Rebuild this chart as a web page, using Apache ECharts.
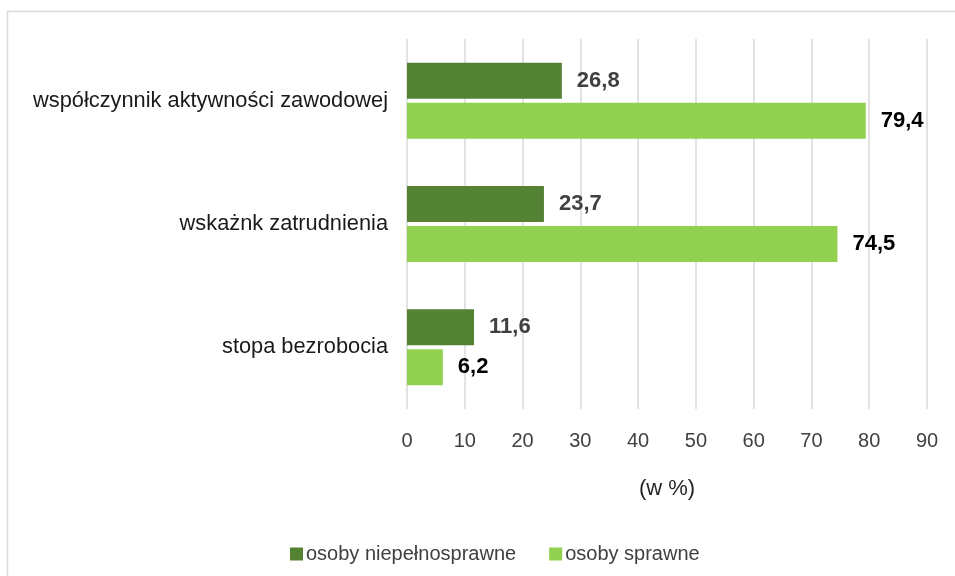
<!DOCTYPE html>
<html>
<head>
<meta charset="utf-8">
<script src="https://cdn.jsdelivr.net/npm/echarts@6/dist/echarts.min.js"></script>
<style>
html,body{margin:0;padding:0;background:#fff;}
#chart{width:955px;height:576px;}
</style>
</head>
<body>
<div id="chart"></div>
<script>
var categories = ['współczynnik aktywności zawodowej', 'wskażnk zatrudnienia', 'stopa bezrobocia'];
var seriesNames = ['osoby niepełnosprawne', 'osoby sprawne'];
var disabled = [26.8, 23.7, 11.6];
var ablebodied = [79.4, 74.5, 6.2];
var xTicks = {min: 0, max: 90, interval: 10};
var axisName = '(w %)';

var FONT = 'Liberation Sans';
var chart = echarts.init(document.getElementById('chart'), null, {renderer: 'canvas'});
function fmt(p){ return String(p.value).replace('.', ','); }
chart.setOption({
  animation: false,
  backgroundColor: '#ffffff',
  textStyle: {fontFamily: FONT},
  graphic: [{
    type: 'rect', left: 5, top: 9, silent: true,
    shape: {width: 1000, height: 620},
    style: {fill: 'none', stroke: '#d9d9d9', lineWidth: 1.5}
  }],
  grid: {left: 407, right: 28, top: 39, bottom: 167, containLabel: false},
  legend: {
    data: seriesNames,
    left: 285, top: 539,
    itemWidth: 13, itemHeight: 13, itemGap: 33,
    icon: 'rect',
    textStyle: {fontFamily: FONT, fontSize: 20, color: '#404040', padding: [0,0,0,-2]}
  },
  xAxis: {
    type: 'value', min: xTicks.min, max: xTicks.max, interval: xTicks.interval,
    name: axisName, nameLocation: 'middle', nameGap: 69,
    nameTextStyle: {fontFamily: FONT, fontSize: 22, color: '#262626'},
    axisLine: {show: false}, axisTick: {show: false},
    axisLabel: {fontFamily: FONT, fontSize: 20, color: '#404040', margin: 22},
    splitLine: {show: true, lineStyle: {color: '#d9d9d9', width: 1.5}}
  },
  yAxis: {
    type: 'category', data: categories, inverse: true,
    axisLine: {show: false}, axisTick: {show: false},
    axisLabel: {fontFamily: FONT, fontSize: 21.8, color: '#1a1a1a', margin: 19},
    splitLine: {show: false}
  },
  series: [{
    name: seriesNames[0], type: 'bar', data: disabled,
    barWidth: 36, barGap: '11%',
    itemStyle: {color: '#548235'},
    label: {show: true, position: 'right', distance: 15, formatter: fmt,
      fontFamily: FONT, fontSize: 22, fontWeight: 'bold', color: '#404040'}
  }, {
    name: seriesNames[1], type: 'bar', data: ablebodied,
    barWidth: 36, barGap: '11%',
    itemStyle: {color: '#92d050'},
    label: {show: true, position: 'right', distance: 15, formatter: fmt,
      fontFamily: FONT, fontSize: 22, fontWeight: 'bold', color: '#000000'}
  }]
});
</script>
</body>
</html>
